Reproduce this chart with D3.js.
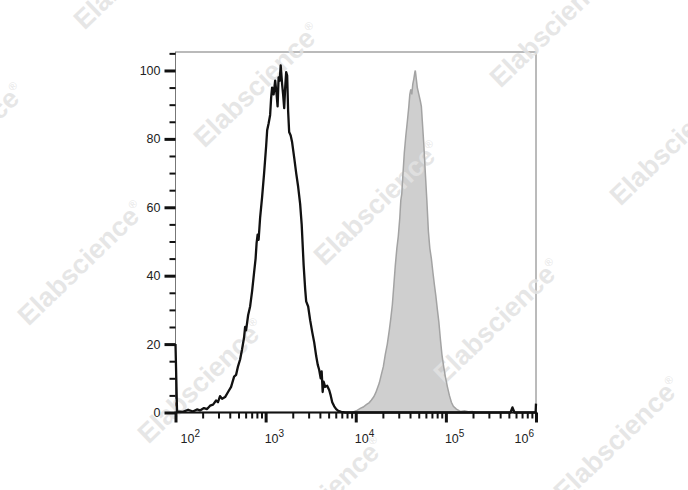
<!DOCTYPE html>
<html>
<head>
<meta charset="utf-8">
<script src="https://cdn.jsdelivr.net/npm/d3@7"></script>
<style>
  html, body { margin: 0; padding: 0; background: #fff; }
  svg { display: block; }
  text { font-family: "Liberation Sans", Arial, sans-serif; }
</style>
</head>
<body>
<svg id="chart" width="688" height="490"></svg>
<script>
// ---- data (fluorescence intensity, % of max) ----
const unstainedX = [100, 104, 121, 138, 156, 173, 187, 207, 224, 242, 261, 282, 296, 312, 329, 355, 383, 414, 447, 470, 494, 521, 548, 577, 592, 607, 640, 673, 708, 745, 774, 794, 815, 836, 869, 914, 962,
  1014, 1040, 1079, 1122, 1151, 1180, 1227, 1276, 1324, 1358, 1393, 1432, 1469, 1524, 1563, 1607, 1648, 1690, 1734, 1778, 1824, 1897, 1968, 2075, 2183, 2296, 2415, 2512, 2576, 2642, 2748, 2818, 2965, 3119, 3289, 3459, 3639, 3784, 3926, 4083, 4188, 4295, 4406, 4581, 4819, 5082, 5272, 5483, 5768, 6067, 6397, 6902, 7638,
  20000, 100000, 521000, 548000, 577000, 990000, 1000000];
const unstainedY = [20, 0.3, 0.2, 0.8, 0.3, 0.9, 0.6, 1.3, 1.0, 2.0, 2.3, 3.5, 3.0, 4.8, 4.0, 4.5, 6.0, 7.5, 10.5, 11.0, 13.5, 15.5, 18.5, 22, 25, 24, 28.5, 31, 35.5, 41, 45, 49.5, 52, 50.5, 57, 63, 70,
  78, 82.5, 84.5, 87, 92, 95, 93, 97, 93, 89.5, 98, 97, 101.5, 96, 93, 89, 95, 99.5, 98.5, 88, 82, 81, 79, 74.5, 70, 66, 61, 55, 49, 43, 36, 32.5, 31, 27, 23.5, 20.5, 16.5, 14, 12.5, 10, 12, 6, 9, 7.5, 7.8, 6.5, 5, 3, 1.8, 1.0, 0.5, 0.2, 0,
  0, 0, 0, 1.5, 0, 0, 2.6];

const stainedX = [100, 9140, 10140, 11220, 12110, 13090, 14130, 14860, 15850, 16680, 17340, 18240, 19190, 20230, 21280, 22390, 23550, 24490, 25470, 26420, 27480, 28580, 29650, 30830, 31620, 32430, 33270, 34590, 35970, 37330, 38820, 39810, 40830, 41880, 42950, 44060, 45290, 45810, 46990, 48190, 50120, 52120, 53460, 54830, 57020, 59160, 61520, 63970, 66370, 69020, 71780, 74470, 77450, 80540, 83560, 86900, 90360, 93760, 98630, 104000, 109400, 115100, 121100, 130900, 144900, 160700, 177800, 196800, 218300, 1000000];
const stainedY = [0, 0, 0.5, 1.2, 1.6, 2.3, 2.9, 3.6, 4.6, 5.8, 7, 8.6, 11, 13.4, 17, 20, 24, 27.5, 31.5, 37, 43, 48, 51.5, 57, 62, 64, 69, 76, 81, 85, 89.5, 93, 94.5, 93, 96, 97.5, 99.5, 100, 97.5, 95, 93, 91, 89.5, 85, 78, 70, 62, 53, 48, 45, 41, 37.5, 34, 30, 26.5, 21.5, 17, 14, 10.5, 7.5, 5, 3, 1.8, 1.0, 0.3, 0.5, 0.2, 0.3, 0, 0];

const yMajorTicks = [0, 20, 40, 60, 80, 100];
const yMinorTicks = [5, 10, 15, 25, 30, 35, 45, 50, 55, 65, 70, 75, 85, 90, 95, 105];
const xMajorTicks = [1e2, 1e3, 1e4, 1e5, 1e6];
const xMajorExponents = ["2", "3", "4", "5", "6"];
const xMinorMultipliers = [2, 3, 4, 5, 6, 7, 8, 9];
const watermarkText = "Elabscience";

// ---- layout ----
const svg = d3.select("#chart");
const pLeft = 175.5, pRight = 536, pTop = 52, pBottom = 412.5;

const x = d3.scaleLog().domain([1e2, 1e6]).range([pLeft, pRight]);
const y = d3.scaleLinear().domain([0, 105.4]).range([pBottom, pTop]);

const unstained = unstainedX.map((v, i) => [v, unstainedY[i]]);
const stained = stainedX.map((v, i) => [v, stainedY[i]]);

// frame
svg.append("rect")
  .attr("x", pLeft).attr("y", pTop)
  .attr("width", pRight - pLeft).attr("height", pBottom - pTop)
  .attr("fill", "none").attr("stroke", "#777").attr("stroke-width", 1);

// stained histogram (filled grey)
const area = d3.area().x(d => x(d[0])).y0(y(0)).y1(d => y(d[1]));
svg.append("path").datum(stained)
  .attr("d", area).attr("fill", "#cfcfcf").attr("stroke", "none");

// watermarks
const wmG = svg.append("g");
const origin = [257, 85], va = [120, 118], vb = [-176, 178];
for (let j = -1; j <= 1; j++) {
  for (let k = -2; k <= 4; k++) {
    const cx = origin[0] + k * va[0] + j * vb[0];
    const cy = origin[1] + k * va[1] + j * vb[1];
    if (cx < -60 || cx > 700 || cy < -50 || cy > 520) continue;
    const t = wmG.append("text")
      .attr("transform", `translate(${cx},${cy}) rotate(-44)`)
      .attr("text-anchor", "middle")
      .attr("dy", "0.35em")
      .attr("font-size", 27)
      .attr("font-weight", "bold")
      .attr("fill", "#e2e2e2")
      .attr("fill-opacity", 0.85);
    t.append("tspan").text(watermarkText);
    t.append("tspan").attr("font-size", 11).attr("dy", -12).attr("font-weight", "normal").text("®");
  }
}

// stained outline
const line = d3.line().x(d => x(d[0])).y(d => y(d[1]));
svg.append("path").datum(stained)
  .attr("d", line).attr("fill", "none").attr("stroke", "#a3a3a3").attr("stroke-width", 1.5);

// unstained outline (black)
svg.append("path").datum(unstained)
  .attr("d", line).attr("fill", "none").attr("stroke", "#111").attr("stroke-width", 2.3)
  .attr("stroke-linejoin", "round");

// ---- Y axis ----
const yMinor = svg.append("g").attr("transform", `translate(${pLeft},0)`)
  .call(d3.axisLeft(y).tickValues(yMinorTicks).tickSize(6).tickFormat(""));
yMinor.select(".domain").remove();
yMinor.selectAll(".tick line").attr("stroke", "#111").attr("stroke-width", 2);

const yMajor = svg.append("g").attr("transform", `translate(${pLeft},0)`)
  .call(d3.axisLeft(y).tickValues(yMajorTicks).tickSize(11).tickPadding(4));
yMajor.select(".domain").remove();
yMajor.selectAll(".tick line").attr("stroke", "#111").attr("stroke-width", 3);
yMajor.selectAll(".tick text")
  .attr("font-size", 12.5).attr("fill", "#222")
  .attr("font-family", "'Liberation Sans', Arial, sans-serif");

// ---- X axis ----
const xMinorVals = [];
for (let d = 0; d < xMajorTicks.length - 1; d++) {
  xMinorMultipliers.forEach(m => xMinorVals.push(xMajorTicks[d] * m));
}
const xMinor = svg.append("g").attr("transform", `translate(0,${pBottom})`)
  .call(d3.axisBottom(x).tickValues(xMinorVals).tickSize(6).tickFormat(""));
xMinor.select(".domain").remove();
xMinor.selectAll(".tick line").attr("stroke", "#111").attr("stroke-width", 2);

const xMajor = svg.append("g").attr("transform", `translate(0,${pBottom})`)
  .call(d3.axisBottom(x).tickValues(xMajorTicks).tickSize(10).tickFormat(""));
xMajor.select(".domain").remove();
xMajor.selectAll(".tick line").attr("stroke", "#111").attr("stroke-width", 3);

// axis baseline
svg.append("line")
  .attr("x1", pLeft - 1).attr("x2", pRight + 1)
  .attr("y1", pBottom).attr("y2", pBottom)
  .attr("stroke", "#111").attr("stroke-width", 2);

// x tick labels (10^n)
const labelY = 443;
xMajorTicks.forEach((v, i) => {
  const t = svg.append("text")
    .attr("y", labelY)
    .attr("font-size", 12.5).attr("fill", "#222");
  t.append("tspan").text("10");
  t.append("tspan").attr("font-size", 10).attr("dy", -6.5).text(xMajorExponents[i]);
  const w = t.node().getComputedTextLength();
  let sx = x(v) - 1;
  sx = Math.max(sx, pLeft + 5);
  sx = Math.min(sx, pRight - 2 - w);
  t.attr("x", sx);
});
</script>
</body>
</html>
